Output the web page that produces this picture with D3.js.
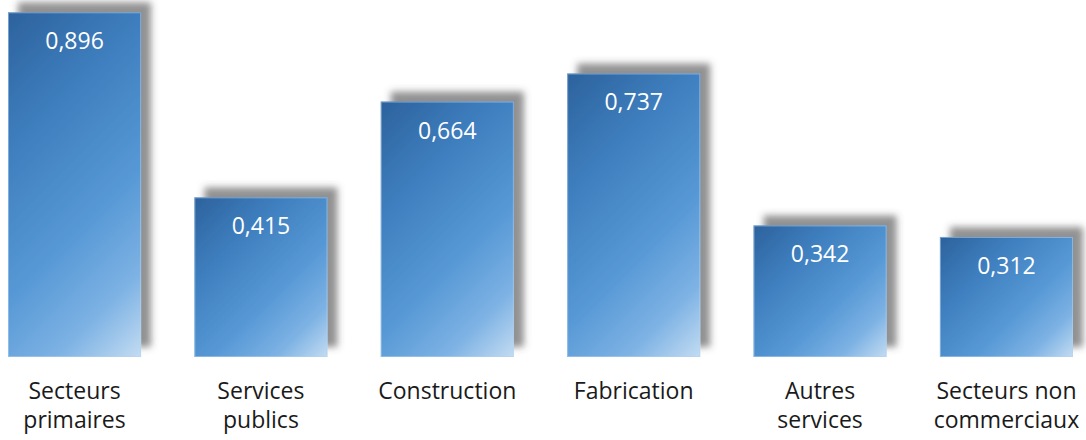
<!DOCTYPE html>
<html>
<head>
<meta charset="utf-8">
<script src="https://cdn.jsdelivr.net/npm/d3@7/dist/d3.min.js"></script>
<style>
  html, body { margin: 0; padding: 0; background: #ffffff; }
  svg { display: block; }
</style>
</head>
<body>
<svg id="chart" width="1086" height="440"></svg>
<script>
// Sector categories (each entry split into label lines)
const categories = [
  "Secteurs primaires",
  "Services publics",
  "Construction",
  "Fabrication",
  "Autres services",
  "Secteurs non commerciaux"
];
const categoryLines = [
  ["Secteurs", "primaires"],
  ["Services", "publics"],
  ["Construction"],
  ["Fabrication"],
  ["Autres", "services"],
  ["Secteurs non", "commerciaux"]
];
const values = [0.896, 0.415, 0.664, 0.737, 0.342, 0.312];

const W = 1086, H = 440;
const baseY = 357;
const svg = d3.select("#chart");

const x = d3.scaleBand()
  .domain(categories)
  .range([8, 1073])
  .paddingInner(0.286)
  .paddingOuter(0);

const y = d3.scaleLinear()
  .domain([0, 1])
  .range([baseY, baseY - 384.7]);

const fmt = v => d3.format(".3f")(v).replace(".", ",");

const defs = svg.append("defs");

// Soft drop shadow cast up and to the right
const shadow = defs.append("filter")
  .attr("id", "barShadow")
  .attr("x", "-20%").attr("y", "-20%")
  .attr("width", "140%").attr("height", "140%");
shadow.append("feDropShadow")
  .attr("dx", 10).attr("dy", -10)
  .attr("stdDeviation", 3.5)
  .attr("flood-color", "#4a4a4a")
  .attr("flood-opacity", 0.6);

const data = categories.map((c, i) => ({ cat: c, value: values[i], lines: categoryLines[i], i }));

// One diagonal gradient per bar, running at 45° from the top-left corner
data.forEach(d => {
  const x0 = x(d.cat), y0 = y(d.value);
  const w = x.bandwidth(), h = baseY - y0;
  const s = (w + h) / 2;
  const g = defs.append("linearGradient")
    .attr("id", "barGrad" + d.i)
    .attr("gradientUnits", "userSpaceOnUse")
    .attr("x1", x0).attr("y1", y0)
    .attr("x2", x0 + s).attr("y2", y0 + s);
  [[0, "#2c629d"], [0.3, "#3f7fbf"], [0.6, "#5698d5"], [0.82, "#7db2e4"], [1, "#c3dcf2"]]
    .forEach(([o, c]) => g.append("stop").attr("offset", o).attr("stop-color", c));
});

const bars = svg.append("g").selectAll("g.bar")
  .data(data)
  .join("g")
  .attr("class", "bar");

bars.append("rect")
  .attr("x", d => x(d.cat))
  .attr("y", d => y(d.value))
  .attr("width", x.bandwidth())
  .attr("height", d => baseY - y(d.value))
  .attr("fill", d => `url(#barGrad${d.i})`)
  .attr("filter", "url(#barShadow)");

// Thin light edge around each bar
bars.append("rect")
  .attr("x", d => x(d.cat) + 0.5)
  .attr("y", d => y(d.value) + 0.5)
  .attr("width", x.bandwidth() - 1)
  .attr("height", d => baseY - y(d.value) - 1)
  .attr("fill", "none")
  .attr("stroke", "#b3d2ef")
  .attr("stroke-opacity", 0.55)
  .attr("stroke-width", 1);

// Value labels inside the top of each bar
bars.append("text")
  .attr("x", d => x(d.cat) + x.bandwidth() / 2)
  .attr("y", d => y(d.value) + 37)
  .attr("text-anchor", "middle")
  .attr("font-family", "'Open Sans', sans-serif")
  .attr("font-size", 23)
  .attr("fill", "#ffffff")
  .text(d => fmt(d.value));

// Category labels below the bars
const labels = svg.append("g").selectAll("text.cat")
  .data(data)
  .join("text")
  .attr("class", "cat")
  .attr("text-anchor", "middle")
  .attr("font-family", "'Open Sans', sans-serif")
  .attr("font-size", 23)
  .attr("fill", "#1a1a1a");

labels.selectAll("tspan")
  .data(d => d.lines.map((t, k) => ({ t, k, cx: x(d.cat) + x.bandwidth() / 2 })))
  .join("tspan")
  .attr("x", l => l.cx)
  .attr("y", l => 399 + l.k * 29)
  .text(l => l.t);
</script>
</body>
</html>
